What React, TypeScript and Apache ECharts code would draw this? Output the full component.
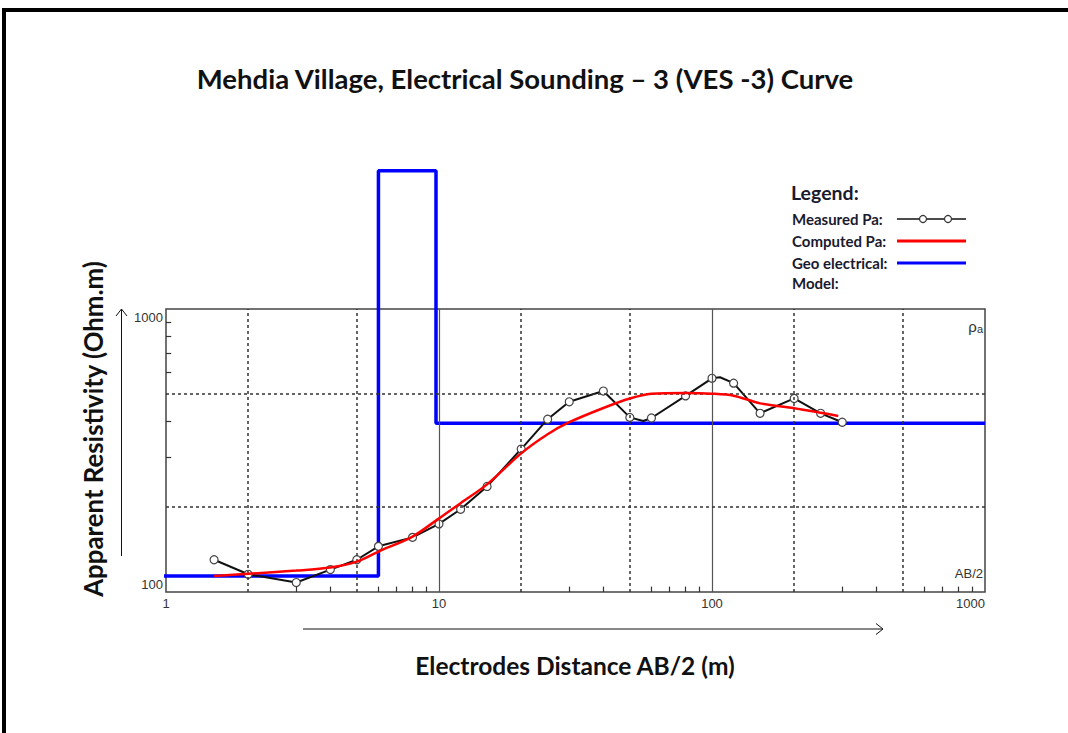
import React, { useEffect, useRef } from "react";
import * as echarts from "echarts";

// ---- data (AB/2 in m, apparent resistivity in Ohm.m) ----
const abHalf = [1.5, 2, 3, 4, 5, 6, 8, 10, 12, 15, 20, 25, 30, 40, 50, 56, 60, 80, 100, 107, 120, 150, 200, 250, 300];
const measuredRho = [130, 115.5, 108, 120, 130, 145, 156, 174, 196, 236, 320, 408, 470, 513, 414, 402, 412, 493, 569, 574, 547, 428, 483, 428, 398];
const markerlessAb = [56, 107];

const computedAb = [1.5, 2, 3, 4, 5, 6, 8, 10, 12, 15, 20, 25, 30, 40, 50, 60, 80, 100, 120, 150, 200, 250, 290];
const computedRho = [114, 116, 119, 122, 128, 139, 157, 182, 206, 240, 309, 361, 398, 447, 483, 502, 505, 502, 494, 464, 446, 430, 419];

const modelAb = [0.632, 6, 6, 9.75, 9.75, 1000];
const modelRho = [114, 114, 3080, 3080, 395, 395];

const xSolidGrid = [10, 100];
const xDottedGrid = [2, 5, 20, 50, 200, 500];
const yDottedGrid = [200, 500];
const xMinorTicks = [3, 4, 6, 7, 8, 9, 30, 40, 60, 70, 80, 90, 300, 400, 600, 700, 800, 900];
const yMinorTicks = [300, 400, 600, 700, 800, 900];

const titleText = "Mehdia Village, Electrical Sounding \u2013 3 (VES -3) Curve";
const yName = "Apparent Resistivity (Ohm.m)";
const xName = "Electrodes Distance AB/2 (m)";
const legendTitle = "Legend:";
const legendLabels = ["Measured Pa:", "Computed Pa:", "Geo electrical:", "Model:"];

const BOLD = "Lato";
const THIN = "Liberation Sans";

export default function App() {
  const ref = useRef<HTMLDivElement>(null);
  useEffect(() => {
    if (!ref.current) return;
    const chart = echarts.init(ref.current, null, { renderer: "svg" });

    const dotted = { color: "#333", width: 1.5, type: [3, 3] as any };
    const solid = { color: "#555", width: 1.2, type: "solid" as any };
    const gridLines: any[] = [
      ...xDottedGrid.map((v) => ({ xAxis: v, lineStyle: dotted })),
      ...xSolidGrid.map((v) => ({ xAxis: v, lineStyle: solid })),
      ...yDottedGrid.map((v) => ({ yAxis: v, lineStyle: dotted })),
      ...xMinorTicks.map((v) => [
        { coord: [v, 100], lineStyle: { color: "#333", width: 1.2, type: "solid" } },
        { coord: [v, 104.5] },
      ]),
      ...yMinorTicks.map((v) => [
        { coord: [1, v], lineStyle: { color: "#333", width: 1.2, type: "solid" } },
        { coord: [1.045, v] },
      ]),
    ];

    const measuredData = abHalf.map((x, i) =>
      markerlessAb.includes(x)
        ? { value: [x, measuredRho[i]], symbol: "none" }
        : { value: [x, measuredRho[i]] }
    );

    const legendY = [219, 241, 263, 283];

    chart.setOption({
      animation: false,
      backgroundColor: "#fff",
      grid: {
        left: 166,
        top: 309,
        width: 819,
        height: 283,
        show: true,
        borderColor: "#444",
        borderWidth: 1.5,
        containLabel: false,
      },
      xAxis: {
        type: "log",
        logBase: 10,
        min: 1,
        max: 1000,
        axisLine: { show: false },
        axisTick: { show: false },
        splitLine: { show: false },
        axisLabel: {
          color: "#333",
          fontSize: 13,
          fontFamily: THIN,
          margin: 5,
          alignMaxLabel: "right",
          formatter: (v: number) => String(Math.round(v)),
        },
      },
      yAxis: {
        type: "log",
        logBase: 10,
        min: 100,
        max: 1000,
        axisLine: { show: false },
        axisTick: { show: false },
        splitLine: { show: false },
        axisLabel: {
          color: "#333",
          fontSize: 13,
          fontFamily: THIN,
          margin: 3,
          formatter: (v: number) => (v >= 1000 ? "{top|" + Math.round(v) + "}" : "{bot|" + Math.round(v) + "}"),
          rich: {
            top: { padding: [16, 0, 0, 0], fontSize: 13, fontFamily: THIN, color: "#333" },
            bot: { padding: [0, 0, 16, 0], fontSize: 13, fontFamily: THIN, color: "#333" },
          },
        },
      },
      series: [
        {
          name: "grid",
          type: "line",
          data: [],
          silent: true,
          markLine: {
            silent: true,
            symbol: "none",
            label: { show: false },
            animation: false,
            data: gridLines,
          },
        },
        {
          name: "Geo electrical Model",
          type: "line",
          clip: false,
          data: modelAb.map((x, i) => [x, modelRho[i]]),
          symbol: "none",
          lineStyle: { color: "#0000ff", width: 3.5 },
          z: 3,
        },
        {
          name: "Measured Pa",
          type: "line",
          data: measuredData,
          symbol: "circle",
          symbolSize: 8,
          showAllSymbol: true,
          lineStyle: { color: "#111", width: 2, type: "solid" },
          itemStyle: { color: "#fff", borderColor: "#444", borderWidth: 1.2 },
          z: 4,
        },
        {
          name: "Computed Pa",
          type: "line",
          data: computedAb.map((x, i) => [x, computedRho[i]]),
          smooth: 0.3,
          symbol: "none",
          lineStyle: { color: "#ff0000", width: 2.5 },
          z: 5,
        },
      ],
      graphic: [
        // outer frame
        { type: "line", shape: { x1: 2, y1: 10, x2: 1068, y2: 10 }, style: { stroke: "#000", lineWidth: 4 } },
        { type: "line", shape: { x1: 4, y1: 8, x2: 4, y2: 733 }, style: { stroke: "#000", lineWidth: 4 } },
        // title
        {
          type: "text",
          x: 525,
          y: 78,
          style: { text: titleText, font: `bold 27.5px ${BOLD}`, fill: "#111", textAlign: "center", textVerticalAlign: "middle" },
        },
        // y axis name
        {
          type: "text",
          x: 93,
          y: 429,
          rotation: Math.PI / 2,
          style: { text: yName, font: `bold 25.8px ${BOLD}`, fill: "#111", textAlign: "center", textVerticalAlign: "middle" },
        },
        // x axis name
        {
          type: "text",
          x: 575,
          y: 665,
          style: { text: xName, font: `bold 24.5px ${BOLD}`, fill: "#111", textAlign: "center", textVerticalAlign: "middle" },
        },
        // arrows
        { type: "line", shape: { x1: 121.5, y1: 556, x2: 121.5, y2: 309 }, style: { stroke: "#111", lineWidth: 1 } },
        { type: "polyline", shape: { points: [[116, 316], [121.5, 309], [127, 316]] }, style: { stroke: "#111", lineWidth: 1, fill: null } },
        { type: "line", shape: { x1: 303, y1: 629, x2: 883, y2: 629 }, style: { stroke: "#111", lineWidth: 1 } },
        { type: "polyline", shape: { points: [[876, 623.5], [883, 629], [876, 634.5]] }, style: { stroke: "#111", lineWidth: 1, fill: null } },
        // in-plot labels
        {
          type: "text",
          x: 983,
          y: 326,
          style: {
            text: "{r|\u03c1}{s|a}",
            rich: {
              r: { fontSize: 15, fontFamily: THIN, fill: "#333" } as any,
              s: { fontSize: 11, fontFamily: THIN, fill: "#333", padding: [6, 0, 0, 0] } as any,
            },
            textAlign: "right",
            textVerticalAlign: "middle",
          },
        },
        {
          type: "text",
          x: 983,
          y: 573,
          style: { text: "AB/2", font: `13px ${THIN}`, fill: "#333", textAlign: "right", textVerticalAlign: "middle" },
        },
        // legend
        {
          type: "text",
          x: 791,
          y: 192,
          style: { text: legendTitle, font: `bold 19.5px ${BOLD}`, fill: "#1a1a2e", textAlign: "left", textVerticalAlign: "middle" },
        },
        ...legendLabels.map((t, i) => ({
          type: "text",
          x: 792,
          y: legendY[i],
          style: { text: t, font: `bold 15px ${BOLD}`, fill: "#1a1a2e", textAlign: "left", textVerticalAlign: "middle" },
        })),
        { type: "line", shape: { x1: 897, y1: 219, x2: 966, y2: 219 }, style: { stroke: "#111", lineWidth: 1.5 } },
        { type: "circle", shape: { cx: 923, cy: 219, r: 3.5 }, style: { fill: "#fff", stroke: "#333", lineWidth: 1.2 } },
        { type: "circle", shape: { cx: 948, cy: 219, r: 3.5 }, style: { fill: "#fff", stroke: "#333", lineWidth: 1.2 } },
        { type: "line", shape: { x1: 897, y1: 241, x2: 966, y2: 241 }, style: { stroke: "#ff0000", lineWidth: 3 } },
        { type: "line", shape: { x1: 897, y1: 263, x2: 966, y2: 263 }, style: { stroke: "#0000ff", lineWidth: 3 } },
      ],
    });

    return () => chart.dispose();
  }, []);

  return (
    <div
      ref={ref}
      style={{ position: "fixed", left: 0, top: 0, width: 1068, height: 733, background: "#fff" }}
    />
  );
}
